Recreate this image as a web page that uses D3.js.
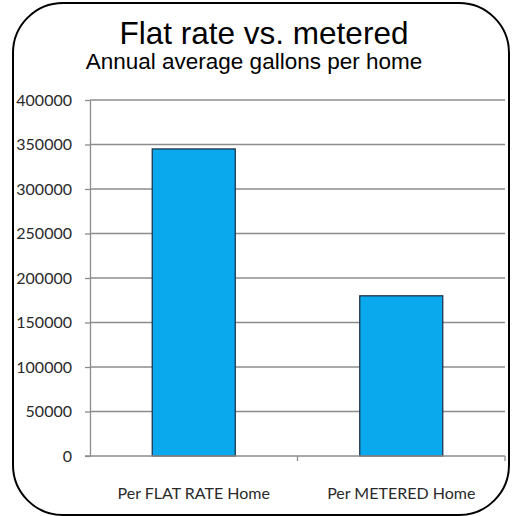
<!DOCTYPE html>
<html>
<head>
<meta charset="utf-8">
<script src="https://cdn.jsdelivr.net/npm/d3@7"></script>
<style>
  body { margin: 0; background: #fff; }
</style>
</head>
<body>
<div id="chart"></div>
<script>
// data
let categories = ['Per FLAT RATE Home', 'Per METERED Home'];
let gallons = [345000, 180000];
let yTicks = [0, 50000, 100000, 150000, 200000, 250000, 300000, 350000, 400000];

let width = 515, height = 516;
let labelFont = 'Lato, "Open Sans", Arial, sans-serif';

let svg = d3.select('#chart').append('svg')
    .attr('width', width)
    .attr('height', height);

// rounded frame
svg.append('rect')
    .attr('x', 13).attr('y', 3)
    .attr('width', 496).attr('height', 512)
    .attr('rx', 50).attr('ry', 50)
    .attr('fill', '#fff')
    .attr('stroke', '#000')
    .attr('stroke-width', 2);

svg.append('text')
    .attr('x', 264).attr('y', 44)
    .attr('text-anchor', 'middle')
    .attr('font-family', 'Arial, "Liberation Sans", sans-serif')
    .attr('font-size', 31.5)
    .attr('fill', '#000')
    .text('Flat rate vs. metered');

svg.append('text')
    .attr('x', 254).attr('y', 69)
    .attr('text-anchor', 'middle')
    .attr('font-family', 'Arial, "Liberation Sans", sans-serif')
    .attr('font-size', 22.5)
    .attr('fill', '#000')
    .text('Annual average gallons per home');

let xScale = d3.scaleBand().domain(categories).range([90, 505]).paddingInner(0.6).paddingOuter(0.3);
let yScale = d3.scaleLinear().domain([0, 400000]).range([456, 100]);

// gridlines
svg.append('g')
    .selectAll('line')
    .data(yTicks.filter(d => d > 0))
    .enter()
    .append('line')
    .attr('x1', 90).attr('x2', 505)
    .attr('y1', d => yScale(d)).attr('y2', d => yScale(d))
    .attr('stroke', '#8c8c8c')
    .attr('stroke-width', 1.3);

// bars
svg.append('g')
    .selectAll('rect')
    .data(gallons)
    .enter()
    .append('rect')
    .attr('x', (d, i) => xScale(categories[i]))
    .attr('y', d => yScale(d))
    .attr('width', xScale.bandwidth())
    .attr('height', d => yScale(0) - yScale(d))
    .attr('fill', '#0AA8EC')
    .attr('stroke', '#1d3550')
    .attr('stroke-width', 1.3);

// y axis
let yAxis = svg.append('g')
    .attr('transform', 'translate(90,0)')
    .call(d3.axisLeft(yScale).tickValues(yTicks).tickSize(5).tickSizeOuter(0).tickPadding(13).tickFormat(d3.format('d')));
yAxis.select('.domain').attr('stroke', '#8c8c8c').attr('stroke-width', 1.3);
yAxis.selectAll('.tick line').attr('stroke', '#8c8c8c').attr('stroke-width', 1.3);
yAxis.selectAll('.tick text')
    .attr('font-family', labelFont)
    .attr('font-size', 16)
    .attr('fill', '#2a2a2a');

// x axis
let xPos = d3.scalePoint().domain([0, 1, 2]).range([90, 505]);
let xAxis = svg.append('g')
    .attr('transform', 'translate(0,' + yScale(0) + ')');
xAxis.append('line')
    .attr('x1', 85).attr('x2', 505)
    .attr('stroke', '#8c8c8c').attr('stroke-width', 1.3);
xAxis.selectAll('line.tick')
    .data([1, 2])
    .enter()
    .append('line')
    .attr('class', 'tick')
    .attr('x1', d => xPos(d)).attr('x2', d => xPos(d))
    .attr('y1', 0).attr('y2', 5)
    .attr('stroke', '#8c8c8c').attr('stroke-width', 1.3);
xAxis.selectAll('text')
    .data(categories)
    .enter()
    .append('text')
    .attr('x', d => xScale(d) + xScale.bandwidth() / 2)
    .attr('y', 43)
    .attr('text-anchor', 'middle')
    .attr('font-family', labelFont)
    .attr('font-size', 16)
    .attr('fill', '#2a2a2a')
    .text(d => d);
</script>
</body>
</html>
